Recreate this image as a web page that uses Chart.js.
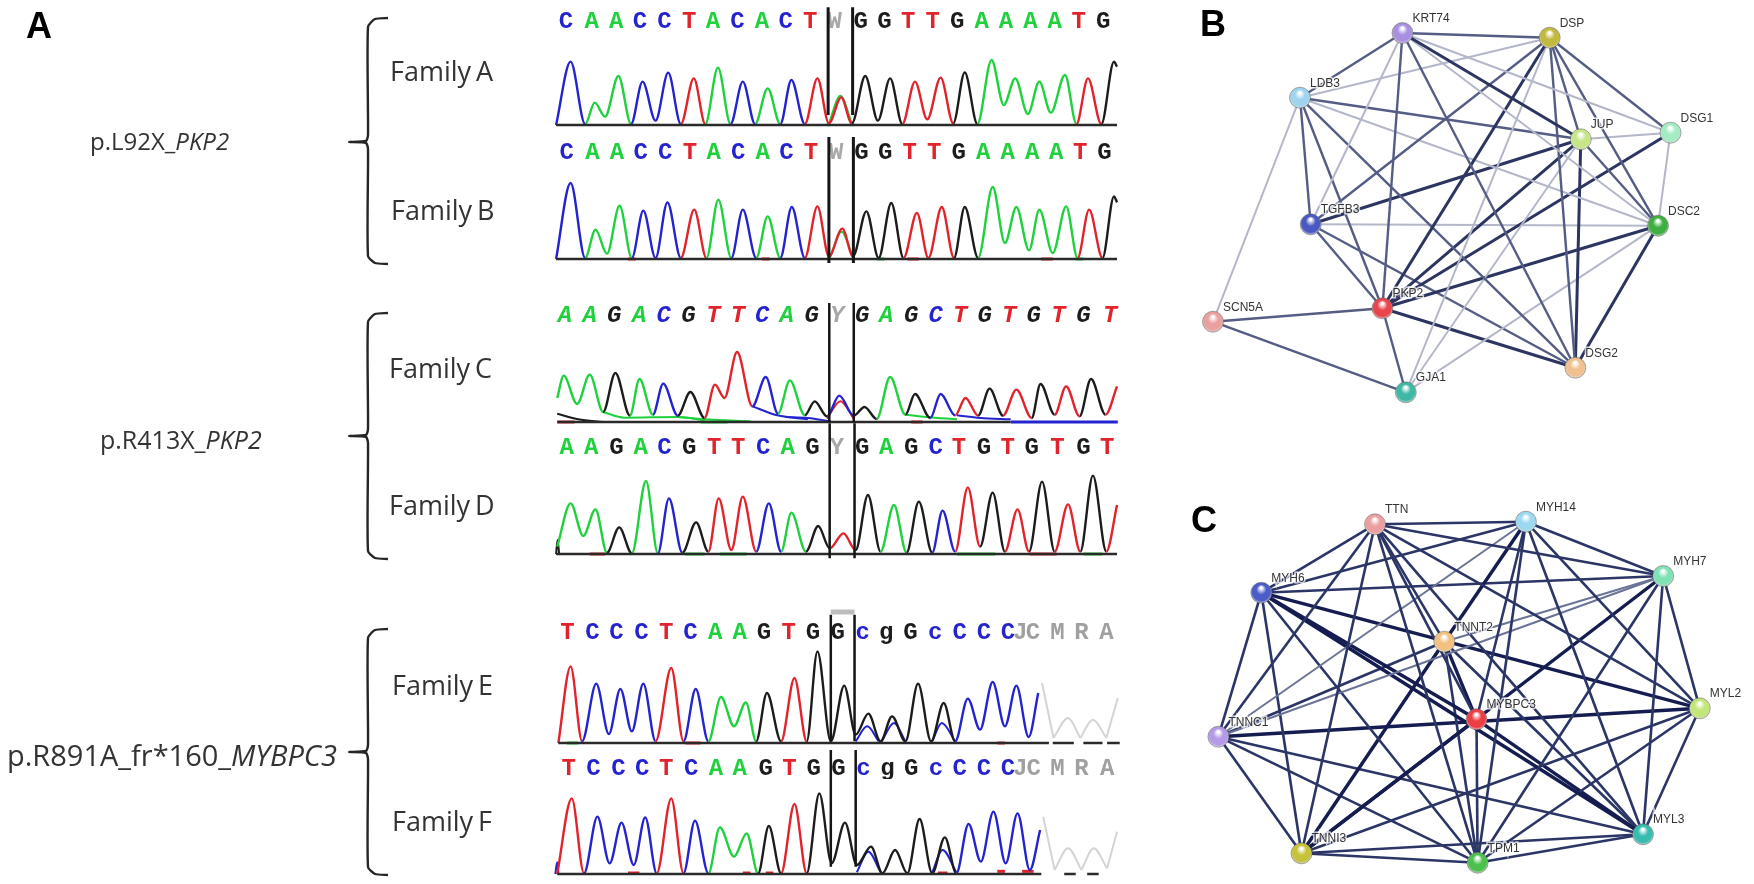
<!DOCTYPE html>
<html>
<head>
<meta charset="utf-8">
<title>Sequencing traces and interaction networks</title>
<script src="https://cdn.jsdelivr.net/npm/chart.js@4"></script>
<style>
html,body{margin:0;padding:0;background:#fff;width:1754px;height:884px;overflow:hidden}
canvas{position:absolute;filter:blur(.45px)}
.t{position:absolute;white-space:nowrap;color:#333;font-family:"Open Sans",sans-serif;line-height:30px;transform:translateY(-50%)}
.fam{font-size:27px;word-spacing:-2px}
.panel{position:absolute;font:bold 36px/36px "Liberation Sans",sans-serif;color:#000}
</style>
</head>
<body>
<canvas id="frame" width="1754" height="884" style="left:0;top:0"></canvas>
<canvas id="famA" width="600" height="140" style="left:540px;top:-10px"></canvas>
<canvas id="famB" width="600" height="140" style="left:540px;top:124px"></canvas>
<canvas id="famC" width="600" height="140" style="left:540px;top:287px"></canvas>
<canvas id="famD" width="600" height="140" style="left:540px;top:419px"></canvas>
<canvas id="famE" width="600" height="140" style="left:540px;top:608px"></canvas>
<canvas id="famF" width="600" height="140" style="left:540px;top:739px"></canvas>
<canvas id="netB" width="574" height="430" style="left:1180px;top:0"></canvas>
<canvas id="netC" width="574" height="404" style="left:1180px;top:480px"></canvas>

<div class="panel" style="left:26px;top:8px">A</div>
<div class="panel" style="left:1200px;top:6px">B</div>
<div class="panel" style="left:1191px;top:502px">C</div>
<div class="t" style="left:90px;top:141px;font-size:24px">p.L92X_<i>PKP2</i></div>
<div class="t" style="left:100px;top:439px;font-size:25px">p.R413X_<i>PKP2</i></div>
<div class="t" style="left:7px;top:755px;font-size:29px">p.R891A_fr*160_<i>MYBPC3</i></div>
<div class="t fam" style="left:390px;top:71px">Family A</div>
<div class="t fam" style="left:391px;top:210px">Family B</div>
<div class="t fam" style="left:389px;top:368px">Family C</div>
<div class="t fam" style="left:389px;top:505px">Family D</div>
<div class="t fam" style="left:392px;top:685px">Family E</div>
<div class="t fam" style="left:392px;top:821px">Family F</div>

<script>
// brackets
const braceAX = [388,375,368,368,366,349,366,368,368,375,388]
const braceAY = [18,19,27,135,141,142,143,149,256,263,264]
const braceBX = [388,375,368,368,366,349,366,368,368,375,388]
const braceBY = [313,314,322,429,435,436,437,443,551,558,559]
const braceCX = [388,375,368,368,366,349,366,368,368,375,388]
const braceCY = [629,630,638,745,751,752,753,759,867,874,875]

// Family A trace: scan / signal alternate valley, peak, valley...
const famA_letters = ['C','A','A','C','C','T','A','C','A','C','T','W','G','G','T','T','G','A','A','A','A','T','G']
const famA_letterScan = [68,135,199,261,325,390,452,516,580,642,706,770,838,900,962,1026,1090,1154,1218,1282,1345,1408,1472]
const famA_scan = [42,80,118,143,170,205,238,268,302,335,368,402,432,465,498,530,562,595,628,657,692,725,755,787,815,850,883,915,947,980,1012,1047,1080,1110,1143,1180,1212,1242,1275,1305,1335,1372,1402,1432,1467,1500,1508]
const famA_signal = [0,190,3,67,25,147,3,130,13,157,3,140,3,172,3,130,3,110,3,135,3,140,5,83,5,147,13,140,3,130,17,142,5,158,3,195,60,140,33,130,37,150,3,140,3,190,175]
const famA_bases = 'CAACCTACACTTGGTTGAAAATG'
const famA_extraScan = [[755,785,815],[748,758],[810,822]]
const famA_extraSignal = [[5,88,5],[1,1],[1,1]]
const famA_extraBases = 'AQQ'
const famA_baseScan = [42,1508]
const famA_cursorScan = [753,817]
const famA_cursorSpan = [353,30]

const famB_letters = famA_letters
const famB_letterScan = [70,137,201,263,327,392,454,518,582,644,708,774,840,902,966,1030,1094,1158,1222,1286,1349,1412,1475]
const famB_scan = [42,80,118,145,175,208,240,270,302,333,368,403,435,466,500,530,565,595,628,658,692,725,755,790,818,853,885,918,950,985,1015,1050,1082,1110,1145,1183,1215,1245,1278,1305,1340,1375,1405,1435,1470,1500,1508]
const famB_signal = [0,228,3,88,16,160,3,145,3,170,3,148,3,178,3,148,3,128,3,156,3,158,8,91,8,143,3,168,3,138,3,156,3,156,3,216,48,156,26,148,18,158,3,148,3,188,170]
const famB_bases = 'CAACCTACACTTGGTTGAAAATG'
const famB_extraScan = [[758,788,818],[230,250],[580,600],[880,900],[960,990],[1310,1340],[1400,1420]]
const famB_extraSignal = [[5,82,5],[0,0],[0,0],[0,0],[0,0],[0,0],[0,0]]
const famB_extraBases = 'ATTATTA'
const famB_baseScan = [42,1508]
const famB_cursorScan = [755,819]
const famB_cursorSpan = [366,-12]

const famC_letters = ['A','A','G','A','C','G','T','T','C','A','G','Y','G','A','G','C','T','G','T','G','T','G','T']
const famC_letterScan = [65,130,194,259,323,388,453,517,581,645,710,777,842,905,970,1034,1098,1162,1226,1290,1355,1420,1490]
const famC_scan = [45,62,97,130,165,197,235,260,295,322,360,393,430,457,482,515,555,590,622,653,692,718,750,782,820,848,880,915,955,980,1020,1047,1085,1112,1145,1175,1210,1245,1285,1308,1345,1375,1410,1440,1478,1508]
const famC_signal = [72,139,54,142,30,147,19,129,22,115,19,90,12,112,72,210,47,135,25,125,20,62,17,79,19,45,9,135,22,84,12,84,20,72,19,100,19,97,12,114,22,107,17,129,22,107]
const famC_bases = 'AAGACGTTCAGCGAGCTGTGTGT'
const famC_extraScan = [[750,785,820],[45,100,165],[165,220,360,430],[360,430,550],[555,620,700],[640,700,760],[955,1010,1090],[1090,1150,1230],[1230,1510],[45,90],[420,490],[970,1000]]
const famC_extraSignal = [[10,62,10],[25,8,0],[30,13,15,5],[15,8,2],[47,20,8],[15,12,2],[22,15,8],[20,12,8],[0,0],[0,0],[0,0],[0,0]]
const famC_extraBases = 'TGAACCACCTAT'
const famC_baseScan = [45,1230]
const famC_cursorScan = [756,820]
const famC_cursorSpan = [357,0]

const famD_letters = famC_letters
const famD_letterScan = [70,134,200,263,325,390,455,518,583,647,712,776,842,905,970,1034,1095,1160,1222,1285,1352,1420,1482]
const famD_scan = [45,80,113,145,175,207,240,277,308,337,372,408,440,467,500,530,565,598,630,657,695,727,757,793,825,857,890,925,958,990,1025,1052,1085,1118,1150,1183,1215,1248,1278,1312,1345,1380,1412,1445,1480,1508]
const famD_signal = [22,152,54,134,4,80,2,219,2,167,4,95,7,167,12,172,7,152,7,124,7,84,17,62,12,177,7,147,4,157,4,130,7,200,22,184,7,134,7,217,7,149,7,235,7,147]
const famD_bases = 'AAGACGTTCAGTGAGCTGTGTGT'
const famD_extraScan = [[42,46,50],[130,170],[380,430],[470,540],[1090,1190],[1280,1350],[1420,1470]]
const famD_extraSignal = [[0,42,0],[0,0],[0,0],[0,0],[0,0],[0,0],[0,0]]
const famD_extraBases = 'GTAAATA'
const famD_baseScan = [42,1508]
const famD_cursorScan = [757,822]
const famD_cursorSpan = [392,-13]

const famE_letters = ['T','C','C','C','T','C','A','A','G','T','G','G','c','g','G','c','C','C','C','J','C','M','R','A']
const famE_letterScan = [72,137,200,265,330,393,458,522,585,650,713,778,843,905,968,1033,1097,1160,1223,1255,1288,1352,1415,1480]
const famE_scan = [48,80,110,147,180,210,240,270,302,343,375,407,440,473,507,538,565,593,630,665,697,725,760,795,825,858,890,920,955,988,1022,1055,1085,1118,1150,1183,1215,1245,1277,1302]
const famE_signal = [0,230,5,178,27,162,35,178,5,225,5,162,5,138,50,122,5,150,5,195,5,275,5,172,25,88,5,80,5,178,5,120,5,133,40,183,50,172,18,150]
const famE_bases = 'TCCCTCAAGTGGGGGGCCCC'
const famE_extraScan = [[825,855,885],[893,925,955],[1025,1050,1085],[1312,1342],[1342,1380,1412],[1412,1445,1480],[1480,1510],[70,100],[380,420],[1195,1215]]
const famE_extraSignal = [[5,50,5],[5,60,5],[5,60,5],[180,15],[15,75,15],[15,70,15],[15,135],[0,0],[0,0],[0,0]]
const famE_extraBases = 'CCCNNNNATT'
const famE_baseScan = [48,1330,null,1340,1395,null,1420,1470,null,1482,1515]
const famE_cursorScan = [760,822]
const famE_cursorSpan = [385,5]
const famE_dotScan = [845,908,1037]
const famE_dotSignal = [368,368,368]
const famE_barScan = [760,822]
const famE_barSignal = [393,393]

const famF_letters = famE_letters
const famF_letterScan = [75,140,205,267,330,395,460,522,590,652,715,780,845,908,970,1035,1097,1160,1223,1255,1290,1352,1415,1482]
const famF_scan = [45,83,115,150,182,213,245,275,305,343,375,405,440,470,507,540,570,598,630,665,697,730,762,797,828,865,895,928,960,992,1025,1058,1088,1120,1152,1185,1217,1248,1280,1307]
const famF_signal = [0,227,2,172,32,154,27,170,2,227,2,160,2,140,52,122,2,144,2,210,2,242,32,154,27,82,2,72,2,165,2,110,2,150,37,187,32,182,12,132]
const famF_bases = 'TCCCTCAAGTGGGGGGCCCC'
const famF_extraScan = [[828,858,890],[1025,1052,1088],[1315,1345],[1345,1380,1415],[1415,1447,1482],[1482,1508],[40,45,48],[230,260],[530,550],[590,610],[1040,1065],[1195,1215],[1260,1290]]
const famF_extraSignal = [[5,67,5],[5,72,5],[172,12],[12,77,12],[12,77,17],[17,127],[0,35,0],[3,3],[3,3],[3,3],[3,3],[8,8],[8,8]]
const famF_extraBases = 'CCNNNNCTTTTTT'
const famF_baseScan = [45,1310,null,1370,1400,null,1430,1460]
const famF_cursorScan = [760,825]
const famF_cursorSpan = [372,22]
const famF_dotScan = [848,910,1040]
const famF_dotSignal = [355,355,355]

// network B
const netB_names = ['KRT74','DSP','LDB3','JUP','DSG1','DSC2','TGFB3','PKP2','SCN5A','GJA1','DSG2']
const netB_x = [1402.5,1549.7,1300,1580.8,1670.5,1658,1310.7,1382.4,1213,1405.8,1575.3]
const netB_y = [33,37.7,97.7,139.3,132.7,225.7,224.3,308.3,321.7,392.3,367.7]
const netB_colors = ['#a98fe0','#c2b93f','#9ed4ee','#c7e68a','#a5ecc4','#3fb040','#4a58c2','#e8454c','#eba0a0','#3fb8a5','#f0c08e']
const netB_edges = [
[0,1,1],[0,2,1],[0,6,0],[0,7,1],[0,3,2],[0,5,0],[0,10,1],[0,4,0],
[1,2,0],[1,6,1],[1,7,2],[1,3,1],[1,4,1],[1,5,1],[1,10,1],[1,9,0],
[2,3,1],[2,5,0],[2,6,1],[2,7,1],[2,10,1],[2,8,0],
[3,4,0],[3,6,2],[3,7,2],[3,5,1],[3,10,2],[3,9,0],
[4,5,0],[4,7,2],[5,6,0],[5,7,2],[5,10,2],[5,9,0],
[6,7,1],[6,10,1],[7,8,1],[7,9,1],[7,10,2],[8,9,1]]

// network C
const netC_names = ['TTN','MYH14','MYH7','MYH6','TNNT2','MYL2','MYBPC3','TNNC1','MYL3','TNNI3','TPM1']
const netC_x = [1375,1525.9,1663.2,1261.3,1444.3,1699.8,1476.5,1218.4,1643,1301.5,1477.6]
const netC_y = [524.3,521.7,576,592.7,641.7,708.3,719.3,736.7,834.3,853.3,862.7]
const netC_colors = ['#eb9fa0','#9cd8f0','#80e2b4','#4a5cc8','#f2c080','#c2e67a','#ee3e45','#b49be8','#38bcae','#c6c23a','#4cc04c']
const netC_edges = [
[0,1,1],[0,2,1],[0,3,1],[0,4,1],[0,5,1],[0,6,1],[0,7,1],[0,8,1],[0,9,1],[0,10,1],
[1,2,1],[1,3,1],[1,4,2],[1,5,1],[1,6,1],[1,7,0],[1,8,1],[1,10,1],
[2,3,1],[2,4,0],[2,5,1],[2,7,0],[2,8,1],[2,9,2],[2,10,1],
[3,5,2],[3,6,2],[3,7,1],[3,8,2],[3,9,1],[3,10,1],
[4,6,2],[4,7,1],[4,8,1],[4,9,2],[4,10,1],
[5,7,2],[5,8,1],[5,9,1],[5,10,1],
[6,8,2],[6,9,2],[6,10,1],
[7,8,1],[7,9,1],[7,10,1],[8,9,1],[8,10,1],[9,10,1]]

const baseColors = {A:'#1fd13c',C:'#2323cf',G:'#1c1c1c',T:'#e2232b',N:'#d4d4d4',Q:'#35d6e0'}
const greyLetters = ['W','Y','J','M','R']

function traceChart(id, f, opt){
    // whole trace is one line, each stretch coloured by the base of its peak
    const traceSet = {
        data:f.scan.map((x,i) => ({x:x,y:f.signal[i]})),
        borderWidth:2.4,
        borderColor:baseColors.G,
        cubicInterpolationMode:'monotone',
        pointRadius:0,
        clip:false,
        segment:{
            borderColor:ctx => baseColors[f.bases[Math.floor(ctx.p0DataIndex / 2)]]
        }
    }
    const extraSets = f.extraScan.map(function(xs,k){
        return {
            data:xs.map((x,j) => ({x:x,y:f.extraSignal[k][j]})),
            borderColor:baseColors[f.extraBases[k]],
            borderWidth:xs.length == 2 && f.extraSignal[k][0] == f.extraSignal[k][1] ? 3 : 2,
            cubicInterpolationMode:'monotone',
            pointRadius:0,
            clip:false
        }
    })
    const cursorSets = f.cursorScan.map(x => ({
        data:[{x:x,y:f.cursorSpan[0]},{x:x,y:f.cursorSpan[1]}],
        borderColor:'#151515',
        borderWidth:opt.cursorWidth,
        pointRadius:0,
        clip:false
    }))
    const baseSet = {
        data:f.baseScan.map(x => x === null ? {x:null,y:null} : {x:x,y:0}),
        borderColor:'#2a2a2a',
        borderWidth:2.6,
        pointRadius:0,
        spanGaps:false,
        clip:false
    }
    const marks = []
    if(f.dotScan) marks.push({
        data:f.dotScan.map((x,j) => ({x:x,y:f.dotSignal[j]})),
        showLine:false,
        pointRadius:3,
        pointBackgroundColor:'#e0181c',
        pointBorderWidth:0,
        clip:false
    })
    if(f.barScan) marks.push({
        data:f.barScan.map((x,j) => ({x:x,y:f.barSignal[j]})),
        borderColor:'#bdbdbd',
        borderWidth:5,
        pointRadius:0,
        clip:false
    })
    new Chart(document.getElementById(id),{
        type:'line',
        data:{datasets:[...marks,...cursorSets,baseSet,traceSet,...extraSets]},
        options:{
            responsive:false,
            animation:false,
            events:[],
            layout:{padding:0,autoPadding:false},
            plugins:{legend:{display:false},tooltip:{enabled:false}},
            scales:{
                x:{
                    type:'linear',
                    position:'top',
                    min:0,
                    max:1568,
                    bounds:'data',
                    grid:{display:false,drawTicks:false},
                    border:{display:false},
                    afterBuildTicks:function(s){ s.ticks = f.letterScan.map(v => ({value:v})) },
                    afterFit:function(s){ s.height = 40; s.paddingLeft = 0; s.paddingRight = 0 },
                    ticks:{
                        autoSkip:false,
                        maxRotation:0,
                        minRotation:0,
                        padding:opt.letterPad,
                        callback:(v,i) => f.letters[i],
                        color:function(c){
                            const l = f.letters[c.index]
                            if(opt.trailingGrey && c.index >= opt.trailingGrey) return '#a0a0a0'
                            if(greyLetters.includes(l)) return '#a8a8a8'
                            return baseColors[(l || 'G').toUpperCase()] || '#1c1c1c'
                        },
                        font:{family:'"Liberation Mono",monospace',size:24,weight:'bold',style:opt.italic ? 'italic' : 'normal'}
                    }
                },
                y:{type:'linear',display:false,min:-15,max:285,bounds:'data'}
            }
        }
    })
}

traceChart('famA',{letters:famA_letters,letterScan:famA_letterScan,scan:famA_scan,signal:famA_signal,bases:famA_bases,extraScan:famA_extraScan,extraSignal:famA_extraSignal,extraBases:famA_extraBases,baseScan:famA_baseScan,cursorScan:famA_cursorScan,cursorSpan:famA_cursorSpan},{cursorWidth:3,letterPad:-6})
traceChart('famB',{letters:famB_letters,letterScan:famB_letterScan,scan:famB_scan,signal:famB_signal,bases:famB_bases,extraScan:famB_extraScan,extraSignal:famB_extraSignal,extraBases:famB_extraBases,baseScan:famB_baseScan,cursorScan:famB_cursorScan,cursorSpan:famB_cursorSpan},{cursorWidth:3,letterPad:-3})
traceChart('famC',{letters:famC_letters,letterScan:famC_letterScan,scan:famC_scan,signal:famC_signal,bases:famC_bases,extraScan:famC_extraScan,extraSignal:famC_extraSignal,extraBases:famC_extraBases,baseScan:famC_baseScan,cursorScan:famC_cursorScan,cursorSpan:famC_cursorSpan},{cursorWidth:2.5,letterPad:-3,italic:true})
traceChart('famD',{letters:famD_letters,letterScan:famD_letterScan,scan:famD_scan,signal:famD_signal,bases:famD_bases,extraScan:famD_extraScan,extraSignal:famD_extraSignal,extraBases:famD_extraBases,baseScan:famD_baseScan,cursorScan:famD_cursorScan,cursorSpan:famD_cursorSpan},{cursorWidth:2.5,letterPad:-3})
traceChart('famE',{letters:famE_letters,letterScan:famE_letterScan,scan:famE_scan,signal:famE_signal,bases:famE_bases,extraScan:famE_extraScan,extraSignal:famE_extraSignal,extraBases:famE_extraBases,baseScan:famE_baseScan,cursorScan:famE_cursorScan,cursorSpan:famE_cursorSpan,dotScan:famE_dotScan,dotSignal:famE_dotSignal,barScan:famE_barScan,barSignal:famE_barSignal},{cursorWidth:2.5,letterPad:1,trailingGrey:19})
traceChart('famF',{letters:famF_letters,letterScan:famF_letterScan,scan:famF_scan,signal:famF_signal,bases:famF_bases,extraScan:famF_extraScan,extraSignal:famF_extraSignal,extraBases:famF_extraBases,baseScan:famF_baseScan,cursorScan:famF_cursorScan,cursorSpan:famF_cursorSpan,dotScan:famF_dotScan,dotSignal:famF_dotSignal},{cursorWidth:2.5,letterPad:-4,trailingGrey:19})

// stroke by edge strength: 0 weak, 1 medium, 2 strong
const netBStroke = [{c:'#b4b7ca',w:2},{c:'#555d85',w:2.4},{c:'#2c3560',w:3}]
const netCStroke = [{c:'#6b7396',w:2},{c:'#2b3566',w:2.6},{c:'#141c50',w:3.4}]

function networkChart(id, names, xs, ys, colors, edges, stroke, box){
    const labels = {
        id:'nodeLabels',
        afterDatasetsDraw:function(chart){
            const c = chart.ctx
            c.save()
            c.font = '12px "Liberation Sans",sans-serif'
            c.textBaseline = 'middle'
            names.forEach(function(n,i){
                const px = chart.scales.x.getPixelForValue(xs[i]) + 10
                const py = chart.scales.y.getPixelForValue(ys[i]) - 14.5
                c.lineWidth = 3
                c.strokeStyle = 'rgba(255,255,255,.75)'
                c.strokeText(n,px,py)
                c.fillStyle = '#333'
                c.fillText(n,px,py)
            })
            c.restore()
        }
    }
    const nodes = {
        data:xs.map((x,i) => ({x:x,y:ys[i]})),
        showLine:false,
        pointRadius:10.5,
        pointBorderWidth:1,
        pointBorderColor:'rgba(70,70,70,.45)',
        pointBackgroundColor:function(ctx){
            if(ctx.type != 'data' || ctx.dataIndex === undefined) return '#999'
            const i = ctx.dataIndex
            const px = ctx.chart.scales.x.getPixelForValue(xs[i])
            const py = ctx.chart.scales.y.getPixelForValue(ys[i])
            if(!isFinite(px) || !isFinite(py)) return colors[i]
            const g = ctx.chart.ctx.createRadialGradient(px,py-5,1,px,py,11)
            g.addColorStop(0,'#ffffff')
            g.addColorStop(.4,colors[i])
            g.addColorStop(.8,colors[i])
            g.addColorStop(1,'#dddddd')
            return g
        }
    }
    const lines = edges.map(e => ({
        data:[{x:xs[e[0]],y:ys[e[0]]},{x:xs[e[1]],y:ys[e[1]]}],
        showLine:true,
        borderColor:stroke[e[2]].c,
        borderWidth:stroke[e[2]].w,
        pointRadius:0
    }))
    new Chart(document.getElementById(id),{
        type:'scatter',
        data:{datasets:[nodes,...lines]},
        options:{
            responsive:false,
            animation:false,
            events:[],
            layout:{padding:0,autoPadding:false},
            plugins:{legend:{display:false},tooltip:{enabled:false}},
            scales:{
                x:{type:'linear',display:false,min:box[0],max:box[1],bounds:'data'},
                y:{type:'linear',display:false,min:box[2],max:box[3],reverse:true,bounds:'data'}
            }
        },
        plugins:[labels]
    })
}

networkChart('netB',netB_names,netB_x,netB_y,netB_colors,netB_edges,netBStroke,[1180,1754,0,430])
networkChart('netC',netC_names,netC_x,netC_y,netC_colors,netC_edges,netCStroke,[1180,1754,480,884])

// brackets share one page sized chart
function braceSet(xs,ys){
    return {data:xs.map((x,i) => ({x:x,y:ys[i]})),borderColor:'#262626',borderWidth:2.4,tension:.2,pointRadius:0}
}
new Chart(document.getElementById('frame'),{
    type:'line',
    data:{datasets:[braceSet(braceAX,braceAY),braceSet(braceBX,braceBY),braceSet(braceCX,braceCY)]},
    options:{
        responsive:false,
        animation:false,
        events:[],
        layout:{padding:0,autoPadding:false},
        plugins:{legend:{display:false},tooltip:{enabled:false}},
        scales:{
            x:{type:'linear',display:false,min:0,max:1754,bounds:'data'},
            y:{type:'linear',display:false,min:0,max:884,reverse:true,bounds:'data'}
        }
    }
})
</script>
</body>
</html>
